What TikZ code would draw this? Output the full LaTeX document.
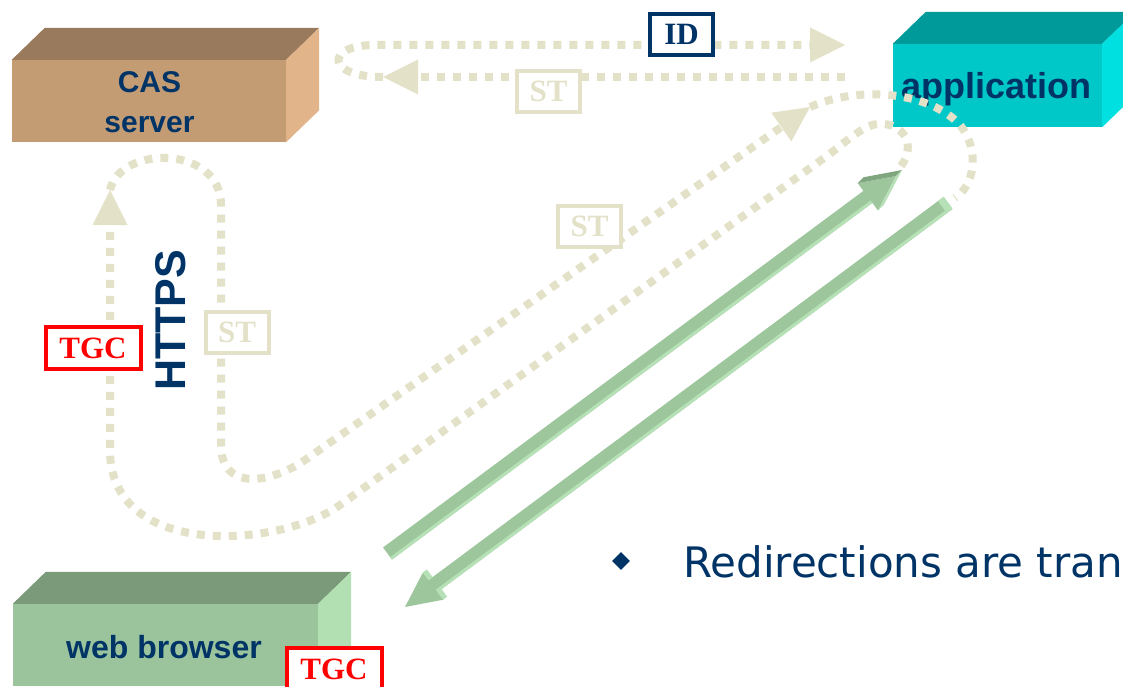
\documentclass[tikz,border=0pt]{standalone}
\usepackage{fontspec}
\setmainfont{Liberation Serif}
\setsansfont{Liberation Sans}
\newfontfamily\bulletfont{DejaVu Sans}
\usetikzlibrary{calc,arrows.meta,shapes.geometric}

\definecolor{navy}{HTML}{003366}
\definecolor{dotcol}{HTML}{E3E1C8}
\definecolor{casfront}{HTML}{C49C74}
\definecolor{castop}{HTML}{9A7A5C}
\definecolor{casside}{HTML}{E2B48A}
\definecolor{appfront}{HTML}{00C8C8}
\definecolor{apptop}{HTML}{009A9A}
\definecolor{appside}{HTML}{00E0E0}
\definecolor{webfront}{HTML}{9CC49C}
\definecolor{webtop}{HTML}{7A9A7A}
\definecolor{webside}{HTML}{B3E0B3}
\definecolor{arrowmid}{HTML}{9DC69D}
\definecolor{arrowlight}{HTML}{B6E0B6}
\definecolor{arrowdark}{HTML}{80A680}

% a 3D block: front face node #1 plus its top and right faces
\newcommand\blockfaces[3]{%
  \fill[#2] (#1.north west) -- ++(33,-32) -- ($(#1.north east)+(33,-32)$) -- (#1.north east) -- cycle;
  \fill[#3] (#1.north east) -- ++(33,-32) -- ($(#1.south east)+(33,-32)$) -- (#1.south east) -- cycle;
}

% thick green redirect arrow from coordinate #1 to coordinate #2,
% light strip on side #3 (90 or -90)
\newcommand\greenarrow[3]{%
  \coordinate (#1-base) at ($(#2)!35pt!(#1)$);
  \fill[arrowmid] ($(#1)!7.5pt!90:(#2)$) -- ($(#1-base)!7.5pt!90:(#2)$)
    -- ($(#1-base)!17pt!90:(#2)$) -- (#2) -- ($(#1-base)!17pt!-90:(#2)$)
    -- ($(#1-base)!7.5pt!-90:(#2)$) -- ($(#1)!7.5pt!-90:(#2)$) -- cycle;
  \fill[arrowlight] ($(#1)!4.5pt!#3:(#2)$) -- ($(#1)!7.5pt!#3:(#2)$)
    -- ($(#1-base)!7.5pt!#3:(#2)$) -- ($(#1-base)!4.5pt!#3:(#2)$) -- cycle;
}

\begin{document}
\begin{tikzpicture}[x=1pt,y=-1pt,
  frontface/.style={draw=none, inner sep=0pt},
  boxtext/.style={text=navy, inner sep=0pt, align=center},
  dots/.style={draw=dotcol, line width=8pt, dash pattern=on 8pt off 8pt},
  dotarrow/.style={-{Triangle[length=35pt,width=35pt,line width=0pt]}},
  tag/.style={fill=white, line width=4pt, inner sep=0pt, minimum height=41pt,
    font=\bfseries\fontsize{31}{31}\selectfont},
  idtag/.style={tag, draw=navy, text=navy, minimum width=63pt},
  sttag/.style={tag, draw=dotcol, text=dotcol, minimum width=63pt},
  tgctag/.style={tag, draw=red, text=red, minimum width=95pt, minimum height=42pt},
]
\useasboundingbox (0,0) rectangle (1123,687);
\clip (0,0) rectangle (1123,687);

% ---- blocks ----
\node[frontface, fill=casfront, minimum width=274pt, minimum height=82pt] (cas) at (149,101) {};
\blockfaces{cas}{castop}{casside}
\node[boxtext, font=\sffamily\bfseries\fontsize{30}{40}\selectfont] (castext) at (149.5,102.3) {CAS\\server};

\node[frontface, fill=appfront, minimum width=209pt, minimum height=83pt] (app) at (997.5,85.5) {};
\blockfaces{app}{apptop}{appside}
\node[boxtext, anchor=base, font=\sffamily\bfseries\fontsize{36}{40}\selectfont] (apptext) at (996.5,99) {application};

\node[frontface, fill=webfront, minimum width=305pt, minimum height=82pt] (web) at (165.5,645) {};
\blockfaces{web}{webtop}{webside}
\node[boxtext, anchor=base, font=\sffamily\bfseries\fontsize{32}{40}\selectfont] (webtext) at (164,658) {web browser};

% ---- end points of the redirect paths ----
\coordinate (stR) at (845,77);
\coordinate (stL) at (383,77);
\coordinate (idR) at (845,45);
\coordinate (appin) at (901,166);
\coordinate (casin) at (110,190);
\coordinate (appup) at (810,107);
\coordinate (appout) at (955,198);

% ---- dotted exchanges ----
\draw[dots, dotarrow] (stR) -- (stL);
\draw[dots, dotarrow] (stL) .. controls (325,77) and (325,45) .. (375,45) -- (idR);
\draw[dots, dotarrow] (appin) .. controls (917,145) and (903,122) .. (878,124)
  .. controls (862,125) and (843,145) .. (820,161) -- (340,505)
  .. controls (280,548) and (110,560) .. (110,450) -- (casin);
\draw[dots, dotarrow] (casin) .. controls (120,145) and (221,145) .. (221,205)
  -- (221,445) .. controls (221,490) and (268,485) .. (305,460) -- (appup);
\draw[dots] (appup) .. controls (860,85) and (930,92) .. (960,125)
  .. controls (980,150) and (975,185) .. (appout);

% ---- green redirect arrows ----
\coordinate (a1tail) at (387.5,553.5);
\coordinate (a1tip) at (896,176);
\coordinate (a2tail) at (948,203);
\coordinate (a2tip) at (405,607);
\greenarrow{a1tail}{a1tip}{-90}
\fill[arrowdark] ($(a1tail-base)!17pt!90:(a1tip)$) -- (a1tip) -- ++(6,-6)
  -- ($($(a1tail-base)!17pt!90:(a1tip)$)+(6,-6)$) -- cycle;
\fill[arrowlight] (a1tip) -- ++(6,-6) -- ($($(a1tail-base)!17pt!-90:(a1tip)$)+(6,-6)$)
  -- ($(a1tail-base)!17pt!-90:(a1tip)$) -- cycle;
\greenarrow{a2tail}{a2tip}{90}
\fill[arrowlight] (a2tail) ++(-4,-6) -- ++(8,11) -- ++(-6,4) -- ++(-8,-11) -- cycle;
\fill[arrowlight] ($(a2tail-base)!7.5pt!90:(a2tip)$) -- ($(a2tail-base)!17pt!90:(a2tip)$)
  -- ++(4,-3) -- ($($(a2tail-base)!7.5pt!90:(a2tip)$)+(4,-3)$) -- cycle;
\fill[arrowlight] ($(a2tail-base)!7.5pt!-90:(a2tip)$) -- ($(a2tail-base)!17pt!-90:(a2tip)$)
  -- ++(4,-3) -- ($($(a2tail-base)!7.5pt!-90:(a2tip)$)+(4,-3)$) -- cycle;

% ---- message tags ----
\node[idtag] (id) at (681.5,34.5) {ID};
\node[sttag] (st1) at (548.5,91.5) {ST};
\node[sttag] (st2) at (589.5,226.5) {ST};
\node[sttag] (st3) at (237,332) {ST};
\node[tgctag] (tgc1) at (93,348) {TGC};
\node[tgctag] (tgc2) at (334,669) {TGC};

\node[rotate=90, text=navy, inner sep=0pt, font=\sffamily\bfseries\fontsize{43}{43}\selectfont] (https) at (171,320.5) {HTTPS};

% ---- bullet note ----
\node[diamond, fill=navy, inner sep=0pt, minimum size=18pt] (bullet) at (621,561) {};
\node[anchor=base west, inner sep=0pt, text=navy, font=\bulletfont\fontsize{42}{50}\selectfont] (note) at (683,577) {Redirections are tran};
\end{tikzpicture}
\end{document}
